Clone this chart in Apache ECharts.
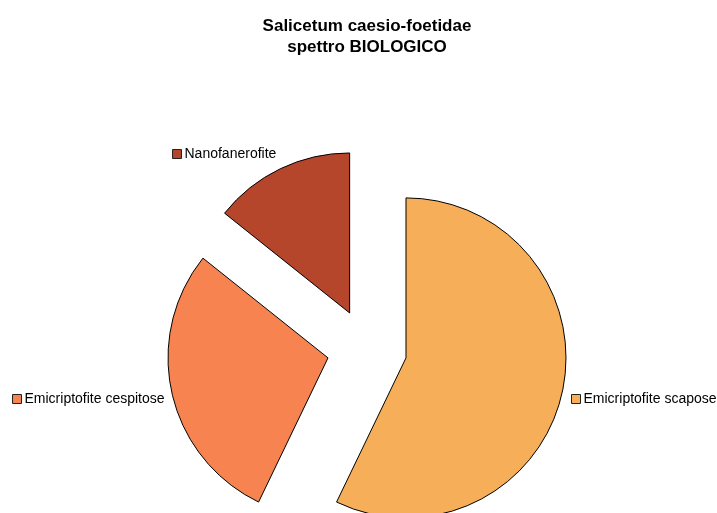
<!DOCTYPE html>
<html>
<head>
<meta charset="utf-8">
<script src="https://cdn.jsdelivr.net/npm/echarts@6/dist/echarts.min.js"></script>
<style>
  html, body { margin: 0; padding: 0; background: #fff; }
  #chart { width: 717px; height: 513px; }
</style>
</head>
<body>
<div id="chart"></div>
<script>
// Biological spectrum: number of species per life form
const categories = ['Emicriptofite scapose', 'Emicriptofite cespitose', 'Nanofanerofite'];
const speciesCount = [4, 2, 1];
const sliceColors = ['#F6AE59', '#F78450', '#B5452B'];

// Key placed next to each slice (left, top), in pixels
const keySpots = [[571, 392], [12, 392], [172, 147]];

const FONT = 'Liberation Sans, Arial, sans-serif';

const chart = echarts.init(document.getElementById('chart'), null, { renderer: 'canvas' });

chart.setOption({
  animation: false,
  backgroundColor: '#ffffff',
  title: {
    text: 'Salicetum caesio-foetidae\nspettro BIOLOGICO',
    left: 362,
    top: 11,
    textAlign: 'center',
    textStyle: {
      fontFamily: FONT,
      fontSize: 17,
      fontWeight: 'bold',
      color: '#000',
      lineHeight: 21
    }
  },
  legend: categories.map((name, i) => ({
    data: [name],
    left: keySpots[i][0],
    top: keySpots[i][1],
    padding: 0,
    icon: 'rect',
    itemWidth: 9,
    itemHeight: 9,
    selectedMode: false,
    itemStyle: { borderColor: '#222', borderWidth: 1 },
    textStyle: { fontFamily: FONT, fontSize: 14, color: '#000', padding: [0, 0, 0, -2] }
  })),
  series: [{
    type: 'pie',
    center: [367, 349],
    radius: [0, 160],
    startAngle: 90,
    clockwise: true,
    selectedMode: 'multiple',
    selectedOffset: 40,
    emphasis: { disabled: true },
    itemStyle: { borderColor: '#000', borderWidth: 1 },
    label: { show: false },
    labelLine: { show: false },
    data: categories.map((name, i) => ({
      name: name,
      value: speciesCount[i],
      selected: true,
      itemStyle: { color: sliceColors[i] }
    }))
  }]
});
</script>
</body>
</html>
